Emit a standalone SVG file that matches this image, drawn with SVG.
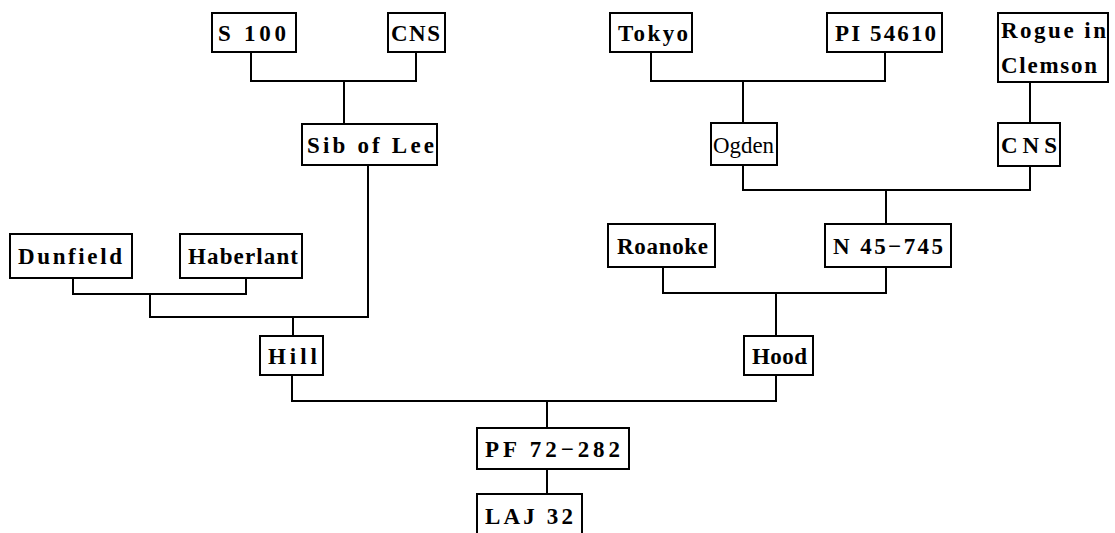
<svg xmlns="http://www.w3.org/2000/svg" width="1115" height="533" viewBox="0 0 1115 533">
<style>
.box{fill:#fff;stroke:#000;stroke-width:2}
.t{font-family:"Liberation Serif","Times New Roman",serif;font-size:23px;font-weight:bold;fill:#000}
.n{font-weight:normal}
.c{fill:none;stroke:#000;stroke-width:2}
</style>
<rect width="1115" height="533" fill="#fff"/>
<g id="connectors">
<path class="c" d="M251 52V81H416V52M344 81V124"/>
<path class="c" d="M368 165V317H150V294M73 278V294H246V278M293 317V336"/>
<path class="c" d="M292 375V401H776V375M547 401V428M547 469V494"/>
<path class="c" d="M651 52V81H885V52M743 81V123"/>
<path class="c" d="M1030 82V123M743 165V190H1030V166M886 190V224"/>
<path class="c" d="M663 267V293H886V267M776 293V336"/>
</g>
<g id="s100"><rect class="box" x="212" y="13" width="84" height="39"/><text class="t" x="218" y="41" textLength="68" lengthAdjust="spacing">S 100</text></g>
<g id="cns1"><rect class="box" x="388" y="13" width="57" height="39"/><text class="t" x="391" y="41" textLength="49" lengthAdjust="spacing">CNS</text></g>
<g id="sib"><rect class="box" x="302" y="124" width="135" height="41"/><text class="t" x="307" y="153" textLength="127" lengthAdjust="spacing">Sib of Lee</text></g>
<g id="tokyo"><rect class="box" x="610" y="13" width="82" height="39"/><text class="t" x="618" y="41" textLength="70" lengthAdjust="spacing">Tokyo</text></g>
<g id="pi54610"><rect class="box" x="827" y="13" width="115" height="39"/><text class="t" x="835" y="41" textLength="101" lengthAdjust="spacing">PI 54610</text></g>
<g id="rogue"><rect class="box" x="998" y="13" width="110" height="69"/><text class="t" x="1001" y="38" textLength="105" lengthAdjust="spacing">Rogue in</text><text class="t" x="1001" y="73" textLength="96" lengthAdjust="spacing">Clemson</text></g>
<g id="ogden"><rect class="box" x="711" y="123" width="66" height="42"/><text class="t n" x="713" y="153" textLength="61" lengthAdjust="spacingAndGlyphs">Ogden</text></g>
<g id="cns2"><rect class="box" x="998" y="123" width="62" height="43"/><text class="t" x="1001" y="153" textLength="56" lengthAdjust="spacing">CNS</text></g>
<g id="dunfield"><rect class="box" x="10" y="234" width="122" height="44"/><text class="t" x="18" y="264" textLength="104" lengthAdjust="spacing">Dunfield</text></g>
<g id="haberlant"><rect class="box" x="180" y="234" width="122" height="44"/><text class="t" x="188" y="264" textLength="110" lengthAdjust="spacing">Haberlant</text></g>
<g id="roanoke"><rect class="box" x="608" y="224" width="107" height="43"/><text class="t" x="617" y="254" textLength="91" lengthAdjust="spacing">Roanoke</text></g>
<g id="n45745"><rect class="box" x="825" y="224" width="126" height="43"/><text class="t" x="833" y="254" textLength="110" lengthAdjust="spacing">N 45−745</text></g>
<g id="hill"><rect class="box" x="260" y="336" width="63" height="39"/><text class="t" x="268" y="364" textLength="49" lengthAdjust="spacing">Hill</text></g>
<g id="hood"><rect class="box" x="744" y="336" width="69" height="39"/><text class="t" x="752" y="364" textLength="55" lengthAdjust="spacing">Hood</text></g>
<g id="pf72282"><rect class="box" x="477" y="428" width="152" height="41"/><text class="t" x="485" y="457" textLength="135" lengthAdjust="spacing">PF 72−282</text></g>
<g id="laj32"><rect class="box" x="477" y="494" width="105" height="48"/><text class="t" x="485" y="524" textLength="88" lengthAdjust="spacing">LAJ 32</text></g>
</svg>
